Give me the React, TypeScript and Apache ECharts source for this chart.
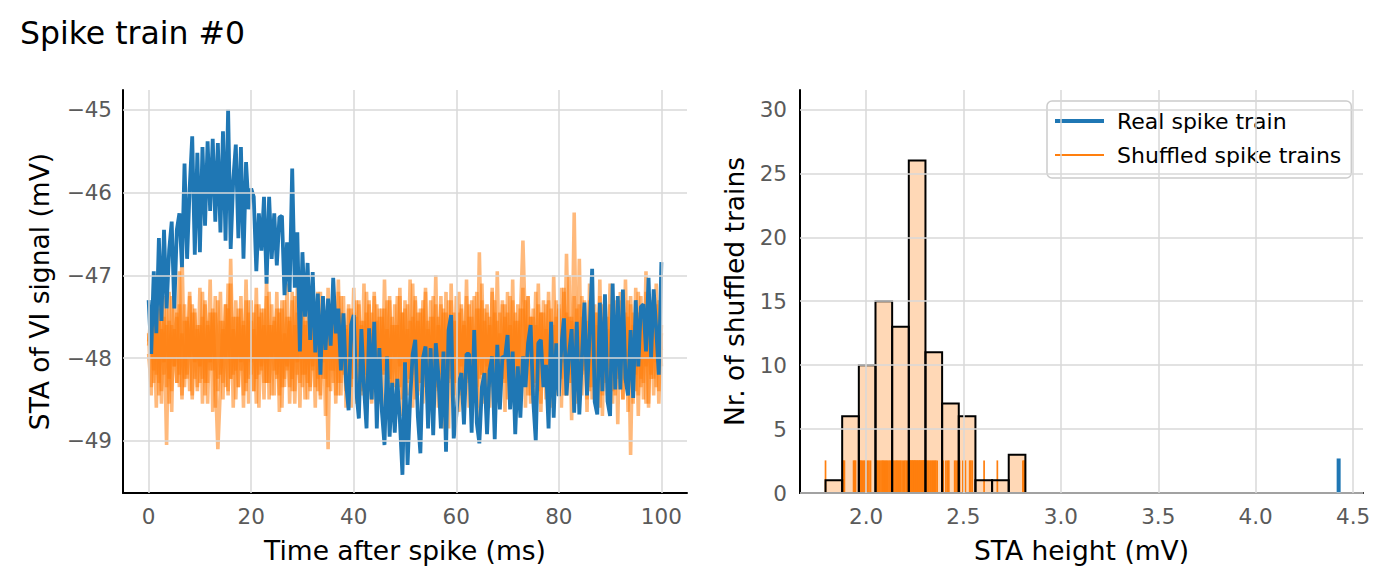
import React, { useEffect, useRef } from "react";
import * as echarts from "echarts";

// ---------- DATA ----------
const TITLE = "Spike train #0";
const SAMPLE_STEP_MS = 0.5;

// STA of the real spike train (mV), one value every 0.5 ms from 0 to 100 ms
const realSTA = [
  -47.30, -47.95, -46.95, -47.70, -46.55, -47.55, -46.45, -47.40, -46.70, -46.35,
  -47.40, -46.45, -46.25, -46.90, -45.65, -46.80, -45.95, -45.32, -46.75, -45.52,
  -46.72, -45.45, -46.40, -45.38, -46.22, -45.35, -46.35, -45.40, -46.48, -45.26,
  -46.58, -45.00, -46.68, -45.85, -45.42, -46.55, -45.45, -46.80, -45.63, -46.20,
  -45.95, -46.05, -46.95, -46.25, -46.70, -46.05, -47.10, -46.05, -46.80, -46.25,
  -46.88, -46.30, -46.28, -47.24, -46.60, -47.20, -45.71, -47.15, -46.48, -47.92,
  -46.72, -47.50, -46.85, -47.78, -46.96, -47.93, -47.22, -48.20, -47.25, -47.90,
  -47.28, -47.85, -47.03, -47.70, -47.40, -48.15, -47.46, -48.29, -48.63, -47.60,
  -47.48, -48.40, -48.73, -47.65, -48.35, -48.85, -47.64, -48.50, -47.56, -48.85,
  -47.88, -48.65, -49.05, -47.98, -48.95, -48.30, -48.90, -48.25, -48.75, -49.41,
  -48.05, -49.29, -48.50, -47.95, -47.78, -48.70, -49.15, -48.00, -47.86, -48.85,
  -47.88, -48.93, -47.82, -48.20, -48.85, -47.92, -49.13, -47.66, -47.48, -48.97,
  -48.70, -48.30, -48.18, -48.80, -47.95, -47.95, -48.90, -47.66, -48.78, -49.03,
  -48.35, -48.18, -48.92, -48.15, -47.98, -48.98, -47.84, -48.62, -47.98, -48.00,
  -47.72, -48.62, -47.92, -48.92, -48.10, -48.72, -47.98, -48.35, -47.82, -47.60,
  -48.50, -49.00, -47.82, -47.78, -48.35, -48.08, -48.85, -47.56, -48.72, -47.82,
  -48.46, -47.85, -47.52, -48.45, -47.95, -47.65, -48.66, -47.56, -48.68, -48.00,
  -47.33, -48.45, -47.70, -46.92, -48.53, -48.68, -47.33, -48.40, -47.23, -48.52,
  -48.70, -47.10, -48.38, -47.25, -48.38, -47.17, -48.25, -48.45, -47.66, -48.48,
  -47.30, -48.10, -47.38, -47.35, -47.92, -47.03, -48.00, -47.17, -47.65, -48.20,
  -46.84,
];

// STA of a few shuffled spike trains (mV), same sampling
const shuffledSTA1 = [
  -47.85, -47.40, -48.30, -47.55, -48.45, -47.30, -48.20, -47.60, -48.55, -47.25, -48.10, -47.45, -48.35, -46.70, -48.25, -47.50, -48.40, -47.35, -48.05, -47.60,
  -48.30, -47.20, -48.45, -47.55, -48.15, -47.40, -48.60, -47.30, -48.20, -47.65, -48.35, -47.10, -48.25, -47.50, -48.50, -47.40, -48.05, -47.55, -48.40, -47.30,
  -48.20, -47.45, -48.55, -47.35, -48.10, -47.60, -48.30, -47.20, -48.45, -47.50, -48.25, -47.40, -48.60, -47.30, -48.15, -47.55, -48.40, -47.25, -48.20, -47.45,
  -48.35, -47.60, -48.50, -47.30, -48.15, -47.45, -48.40, -47.20, -48.25, -47.55, -49.10, -47.35, -48.30, -47.50, -48.45, -47.25, -48.10, -47.60, -48.35, -47.40,
  -48.25, -47.30, -48.50, -47.55, -48.15, -47.20, -48.40, -47.45, -48.30, -47.35, -48.55, -47.50, -48.20, -47.30, -48.45, -47.60, -48.35, -47.25, -48.10, -47.45,
  -48.40, -47.35, -48.25, -47.10, -48.50, -47.45, -48.30, -47.30, -48.15, -47.55, -48.45, -47.25, -48.35, -47.50, -48.20, -47.40, -48.55, -47.30, -48.25, -47.45,
  -48.30, -47.20, -48.45, -47.55, -48.10, -47.35, -48.40, -47.25, -48.60, -46.72, -48.20, -47.40, -48.35, -47.50, -48.15, -47.30, -48.45, -47.45, -48.25, -47.35,
  -48.50, -47.25, -48.20, -47.55, -48.35, -47.40, -48.15, -47.30, -48.45, -47.50, -48.30, -47.20, -48.40, -47.45, -48.25, -47.35, -48.55, -47.40, -48.20, -47.30,
  -48.35, -47.15, -48.45, -46.74, -48.20, -47.50, -48.30, -47.40, -48.50, -47.25, -48.15, -47.55, -48.40, -47.30, -48.25, -47.45, -48.60, -47.35, -48.20, -47.50,
  -48.35, -47.25, -48.45, -47.40, -48.15, -47.55, -48.30, -47.30, -49.17, -47.45, -48.40, -47.20, -48.25, -47.50, -48.55, -47.35, -48.20, -47.45, -48.35, -47.30,
  -48.10,
];
const shuffledSTA2 = [
  -47.95, -48.35, -47.45, -48.60, -47.30, -48.40, -47.50, -49.05, -47.20, -48.40, -47.65, -48.30, -47.35, -48.50, -47.55, -48.20, -47.25, -48.45, -47.40, -48.35,
  -47.60, -48.25, -47.30, -48.55, -47.45, -48.15, -47.25, -48.40, -47.55, -48.30, -47.35, -48.45, -46.80, -48.20, -47.50, -48.35, -47.40, -48.60, -47.30, -48.25,
  -47.55, -48.40, -47.35, -48.20, -47.45, -48.50, -47.25, -48.30, -47.60, -48.15, -47.40, -48.45, -47.30, -48.25, -47.50, -48.35, -47.20, -48.55, -47.45, -48.30,
  -47.35, -48.20, -47.55, -48.40, -47.25, -48.35, -47.45, -48.50, -47.30, -48.25, -47.50, -48.15, -47.40, -48.45, -47.20, -48.30, -47.55, -48.40, -47.35, -48.60,
  -47.45, -48.25, -47.30, -48.45, -47.55, -48.20, -47.35, -48.55, -47.25, -48.35, -47.50, -48.20, -47.40, -48.45, -47.30, -48.30, -47.60, -48.40, -47.25, -48.50,
  -47.40, -48.30, -47.55, -48.20, -47.30, -48.45, -47.45, -48.35, -47.20, -48.55, -47.50, -48.25, -47.35, -48.40, -47.25, -48.85, -47.45, -48.30, -47.30, -48.45,
  -47.55, -48.20, -47.35, -48.40, -47.25, -48.30, -47.50, -48.45, -47.40, -48.25, -47.30, -48.55, -47.45, -48.35, -47.20, -48.20, -47.55, -48.40, -47.35, -48.30,
  -47.45, -48.50, -47.30, -48.25, -47.55, -48.35, -47.40, -48.20, -47.25, -48.45, -47.50, -48.30, -47.35, -48.55, -47.45, -48.25, -47.30, -48.40, -47.60, -48.35,
  -47.40, -48.25, -47.20, -48.45, -47.50, -48.30, -46.24, -48.40, -47.35, -48.20, -47.55, -48.50, -47.30, -48.35, -47.45, -48.25, -47.25, -48.45, -47.50, -48.30,
  -47.35, -48.40, -47.55, -48.25, -47.30, -48.50, -47.45, -48.35, -47.25, -48.20, -47.50, -48.45, -47.40, -48.30, -47.20, -48.55, -47.45, -48.25, -47.35, -48.40,
  -47.70,
];
const shuffledSTA3 = [
  -47.80, -47.55, -48.15, -47.45, -48.30, -47.65, -48.05, -47.40, -48.25, -47.60, -48.10, -47.50, -48.20, -47.70, -48.35, -47.55, -48.00, -47.45, -48.25, -47.65,
  -48.10, -47.50, -48.30, -47.60, -48.05, -47.45, -48.20, -49.10, -48.35, -47.55, -48.00, -47.40, -48.25, -47.65, -48.15, -47.50, -48.15, -47.60, -48.30, -47.45,
  -48.05, -47.65, -48.25, -47.50, -48.15, -47.40, -48.30, -47.60, -48.00, -47.55, -48.20, -47.45, -48.35, -47.70, -48.10, -47.50, -48.25, -47.60, -48.05, -47.45,
  -48.20, -47.55, -48.30, -47.65, -48.10, -47.40, -48.25, -47.55, -48.05, -47.70, -48.35, -47.50, -48.15, -47.60, -48.30, -47.45, -48.20, -47.65, -48.05, -47.55,
  -48.25, -47.50, -48.10, -47.60, -48.35, -47.45, -48.20, -47.70, -48.05, -47.55, -48.30, -47.40, -48.15, -47.65, -48.25, -47.50, -48.00, -47.60, -48.35, -47.45,
  -48.10, -47.65, -48.25, -47.50, -48.05, -47.55, -48.30, -47.40, -48.20, -47.65, -48.10, -47.50, -48.35, -47.60, -48.00, -47.45, -48.25, -47.70, -48.15, -47.55,
  -48.30, -47.45, -48.10, -47.60, -48.25, -47.50, -48.05, -47.65, -48.35, -47.40, -48.20, -47.55, -48.10, -47.60, -48.30, -47.45, -48.15, -47.70, -48.25, -47.50,
  -48.05, -47.60, -48.30, -47.45, -48.15, -47.55, -46.58, -47.70, -48.10, -47.50, -48.35, -47.60, -48.00, -47.45, -48.20, -47.65, -48.30, -47.55, -48.10, -47.50,
  -48.25, -47.65, -48.05, -47.45, -48.30, -47.55, -48.15, -47.60, -48.25, -47.50, -48.10, -47.70, -48.35, -47.45, -48.05, -47.60, -48.20, -47.50, -48.30, -47.65,
  -48.10, -47.45, -48.25, -47.55, -48.05, -47.65, -48.30, -47.50, -48.15, -47.60, -48.20, -47.45, -48.35, -47.55, -48.10, -47.65, -48.25, -47.50, -48.05, -47.60,
  -47.90,
];
const shuffledSTA4 = [
  -47.70, -48.45, -47.10, -48.20, -47.40, -48.55, -47.25, -48.35, -47.55, -48.65, -47.15, -48.30, -46.95, -48.45, -47.35, -48.25, -47.20, -48.50, -47.45, -48.40,
  -47.15, -48.55, -47.35, -48.30, -47.05, -48.65, -47.45, -48.25, -47.20, -48.50, -47.35, -48.40, -47.10, -48.60, -47.30, -48.35, -47.25, -48.45, -47.05, -48.55,
  -47.30, -48.40, -47.15, -48.60, -47.40, -48.30, -47.05, -48.50, -47.35, -48.45, -47.20, -48.65, -47.40, -48.35, -47.10, -48.55, -47.30, -48.40, -47.15, -48.60,
  -47.25, -48.50, -47.10, -48.35, -47.40, -48.60, -47.20, -48.45, -47.35, -48.70, -47.15, -48.40, -47.30, -48.55, -47.05, -48.45, -47.25, -48.60, -47.40, -48.35,
  -47.15, -48.55, -47.35, -48.40, -47.10, -48.65, -47.30, -48.50, -47.20, -48.45, -47.40, -48.60, -47.05, -48.35, -47.25, -48.55, -47.35, -48.45, -47.15, -48.70,
  -47.30, -48.45, -47.05, -48.60, -47.25, -48.40, -47.40, -48.55, -47.15, -48.70, -47.30, -48.45, -47.00, -48.60, -47.35, -48.50, -47.20, -48.85, -47.10, -48.55,
  -47.25, -48.65, -47.40, -48.45, -47.05, -48.60, -47.30, -48.50, -47.20, -48.75, -47.10, -48.45, -47.35, -48.60, -47.15, -48.55, -46.95, -48.45, -47.30, -48.65,
  -47.20, -48.50, -47.05, -48.70, -47.35, -48.45, -47.15, -48.60, -47.25, -48.55, -47.40, -48.45, -47.10, -48.65, -47.30, -48.50, -47.20, -48.60, -47.00, -48.45,
  -47.35, -48.60, -47.15, -48.45, -47.00, -48.75, -47.25, -48.55, -46.80, -48.45, -47.30, -48.65, -47.10, -48.50, -47.35, -48.60, -47.05, -48.70, -47.25, -48.45,
  -47.10, -48.55, -47.30, -48.80, -47.20, -48.50, -47.05, -48.65, -47.35, -48.55, -47.15, -48.70, -47.25, -48.50, -46.95, -48.60, -47.30, -48.45, -47.10, -48.55,
  -47.60,
];
const shuffledTraces = [shuffledSTA1, shuffledSTA2, shuffledSTA3, shuffledSTA4];

// Histogram of STA heights of the shuffled trains
const binEdges = [1.792, 1.8775, 1.963, 2.0485, 2.134, 2.2195, 2.305, 2.3905, 2.476, 2.5615, 2.647, 2.7325, 2.818];
const binCounts = [1, 6, 10, 15, 13, 26, 11, 7, 6, 1, 1, 3];

// STA heights of the individual shuffled trains (rug)
const shuffledHeights = [
  1.792,
  1.879, 1.884, 1.889, 1.936, 1.941, 1.946,
  1.965, 1.970, 1.975, 1.981, 1.988, 1.994, 2.001, 2.008, 2.015, 2.023,
  2.050, 2.055, 2.060, 2.066, 2.071, 2.077, 2.083, 2.088, 2.094, 2.100, 2.106, 2.112, 2.118, 2.124, 2.130,
  2.137, 2.143, 2.149, 2.155, 2.160, 2.166, 2.172, 2.178, 2.185, 2.192, 2.199, 2.206, 2.214,
  2.221, 2.224, 2.227, 2.230, 2.234, 2.237, 2.240, 2.243, 2.247, 2.250, 2.253, 2.256, 2.260,
  2.263, 2.266, 2.270, 2.273, 2.276, 2.280, 2.283, 2.287, 2.290, 2.293, 2.296, 2.299, 2.302,
  2.307, 2.312, 2.318, 2.323, 2.329, 2.334, 2.340, 2.346, 2.352, 2.358, 2.365,
  2.396, 2.410, 2.418, 2.425, 2.455, 2.462, 2.470,
  2.480, 2.497, 2.510, 2.532, 2.538, 2.545,
  2.606,
  2.674,
  2.805, 2.810, 2.815,
];
const realHeight = 4.426;
const rugHeightShuffled = 2.55;
const rugHeightReal = 2.7;

const leftXTicks = [0, 20, 40, 60, 80, 100];
const leftYTicks = [-45, -46, -47, -48, -49];
const rightXTicks = [2.0, 2.5, 3.0, 3.5, 4.0, 4.5];
const rightYTicks = [0, 5, 10, 15, 20, 25, 30];

const BLUE = "#1f77b4";
const ORANGE = "#ff7f0e";
const FONT = "DejaVu Sans";

const minus = (v: number) => String(v).replace("-", "\u2212");

export default function App() {
  const ref = useRef<HTMLDivElement>(null);

  useEffect(() => {
    document.body.style.margin = "0";
    if (!ref.current) return;
    const chart = echarts.init(ref.current, null, { renderer: "svg" });

    const toXY = (arr: number[]) => arr.map((v, i) => [i * SAMPLE_STEP_MS, v]);

    const gridLine = { color: "#d9d9d9", width: 1.5, type: "solid" as const };
    const gridSeries = (idx: number, xs: number[], ys: number[]) => ({
      type: "line",
      xAxisIndex: idx,
      yAxisIndex: idx,
      data: [],
      silent: true,
      z: 1,
      markLine: {
        silent: true,
        symbol: ["none", "none"],
        label: { show: false },
        lineStyle: gridLine,
        animation: false,
        data: [...xs.map((v) => ({ xAxis: v })), ...ys.map((v) => ({ yAxis: v }))],
      },
    });

    const tickLabel = { fontSize: 21.5, color: "#5a5a5a", fontFamily: FONT };
    const axisName = { fontSize: 26.5, color: "#000", fontFamily: FONT };
    const spine = { show: true, onZero: false, lineStyle: { color: "#000", width: 2 } };

    const histData = binCounts.map((c, i) => [binEdges[i], binEdges[i + 1], c]);
    const rectRender = (fill: string, stroke: string, lw: number) => (params: any, api: any) => {
      const p0 = api.coord([api.value(0), api.value(2)]);
      const p1 = api.coord([api.value(1), 0]);
      return {
        type: "rect",
        shape: { x: p0[0], y: p0[1], width: p1[0] - p0[0], height: p1[1] - p0[1] },
        style: { fill, stroke, lineWidth: lw },
      };
    };
    const rugRender = (color: string, lw: number) => (params: any, api: any) => {
      const a = api.coord([api.value(0), 0]);
      const b = api.coord([api.value(0), api.value(1)]);
      return {
        type: "line",
        shape: { x1: a[0], y1: a[1], x2: b[0], y2: b[1] },
        style: { stroke: color, lineWidth: lw },
      };
    };

    const option: any = {
      animation: false,
      textStyle: { fontFamily: FONT },
      title: {
        text: TITLE,
        left: 20,
        top: 17,
        padding: 0,
        textStyle: { fontSize: 31.5, fontWeight: "normal", color: "#000", fontFamily: FONT },
      },
      legend: {
        left: 1047,
        top: 101,
        orient: "vertical",
        itemWidth: 49,
        itemHeight: 14,
        itemGap: 12,
        padding: [9, 10, 12, 6],
        backgroundColor: "rgba(255,255,255,0.85)",
        borderColor: "#cccccc",
        borderWidth: 1.5,
        borderRadius: 5,
        textStyle: { fontSize: 22, color: "#000", fontFamily: FONT, padding: [0, 0, 0, 8] },
        data: [
          { name: "Real spike train", itemStyle: { opacity: 0 }, lineStyle: { color: BLUE, width: 4, opacity: 1 } },
          { name: "Shuffled spike trains", itemStyle: { opacity: 0 }, lineStyle: { color: ORANGE, width: 2.2, opacity: 1 } },
        ],
      },
      grid: [
        { left: 123, top: 90, width: 564, height: 403, containLabel: false },
        { left: 800, top: 90, width: 563, height: 403, containLabel: false },
      ],
      xAxis: [
        {
          type: "value",
          gridIndex: 0,
          min: -5,
          max: 105,
          axisLine: spine,
          axisTick: { show: false },
          splitLine: { show: false },
          axisLabel: { ...tickLabel, margin: 12, customValues: leftXTicks, formatter: (v: number) => String(v) },
          name: "Time after spike (ms)",
          nameLocation: "middle",
          nameGap: 44,
          nameTextStyle: axisName,
        },
        {
          type: "value",
          gridIndex: 1,
          min: 1.661,
          max: 4.551,
          axisLine: spine,
          axisTick: { show: false },
          splitLine: { show: false },
          axisLabel: { ...tickLabel, margin: 12, customValues: rightXTicks, formatter: (v: number) => v.toFixed(1) },
          name: "STA height (mV)",
          nameLocation: "middle",
          nameGap: 44,
          nameTextStyle: axisName,
        },
      ],
      yAxis: [
        {
          type: "value",
          gridIndex: 0,
          min: -49.63,
          max: -44.76,
          axisLine: spine,
          axisTick: { show: false },
          splitLine: { show: false },
          axisLabel: { ...tickLabel, margin: 11, customValues: leftYTicks, formatter: (v: number) => minus(v) },
          name: "STA of VI signal (mV)",
          nameLocation: "middle",
          nameGap: 70,
          nameRotate: 90,
          nameTextStyle: axisName,
        },
        {
          type: "value",
          gridIndex: 1,
          min: 0,
          max: 31.52,
          axisLine: spine,
          axisTick: { show: false },
          splitLine: { show: false },
          axisLabel: { ...tickLabel, margin: 13, customValues: rightYTicks, formatter: (v: number) => String(v) },
          name: "Nr. of shuffled trains",
          nameLocation: "middle",
          nameGap: 52,
          nameRotate: 90,
          nameTextStyle: axisName,
        },
      ],
      series: [
        gridSeries(0, leftXTicks, leftYTicks),
        gridSeries(1, rightXTicks, rightYTicks),
        ...shuffledTraces.map((tr) => ({
          name: "Shuffled spike trains",
          type: "line",
          xAxisIndex: 0,
          yAxisIndex: 0,
          data: toXY(tr),
          symbol: "none",
          showSymbol: false,
          silent: true,
          z: 2,
          lineStyle: { color: ORANGE, width: 3.6, opacity: 0.55 },
          itemStyle: { color: ORANGE },
        })),
        {
          name: "Real spike train",
          type: "line",
          xAxisIndex: 0,
          yAxisIndex: 0,
          data: toXY(realSTA),
          symbol: "none",
          showSymbol: false,
          silent: true,
          z: 3,
          lineStyle: { color: BLUE, width: 3.8, opacity: 1 },
          itemStyle: { color: BLUE },
        },
        {
          type: "custom",
          xAxisIndex: 1,
          yAxisIndex: 1,
          data: histData,
          encode: { x: [0, 1], y: 2 },
          renderItem: rectRender("rgba(255,127,14,0.3)", "none", 0),
          silent: true,
          z: 2,
        },
        {
          type: "custom",
          xAxisIndex: 1,
          yAxisIndex: 1,
          data: shuffledHeights.map((v) => [v, rugHeightShuffled]),
          renderItem: rugRender(ORANGE, 1.7),
          silent: true,
          z: 3,
        },
        {
          type: "custom",
          xAxisIndex: 1,
          yAxisIndex: 1,
          data: [[realHeight, rugHeightReal]],
          renderItem: rugRender(BLUE, 4),
          silent: true,
          z: 3,
        },
        {
          type: "custom",
          xAxisIndex: 1,
          yAxisIndex: 1,
          data: histData,
          encode: { x: [0, 1], y: 2 },
          renderItem: rectRender("none", "#000", 2),
          silent: true,
          z: 4,
        },
      ],
    };

    chart.setOption(option);
    return () => chart.dispose();
  }, []);

  return <div ref={ref} style={{ width: 1389, height: 583 }} />;
}
